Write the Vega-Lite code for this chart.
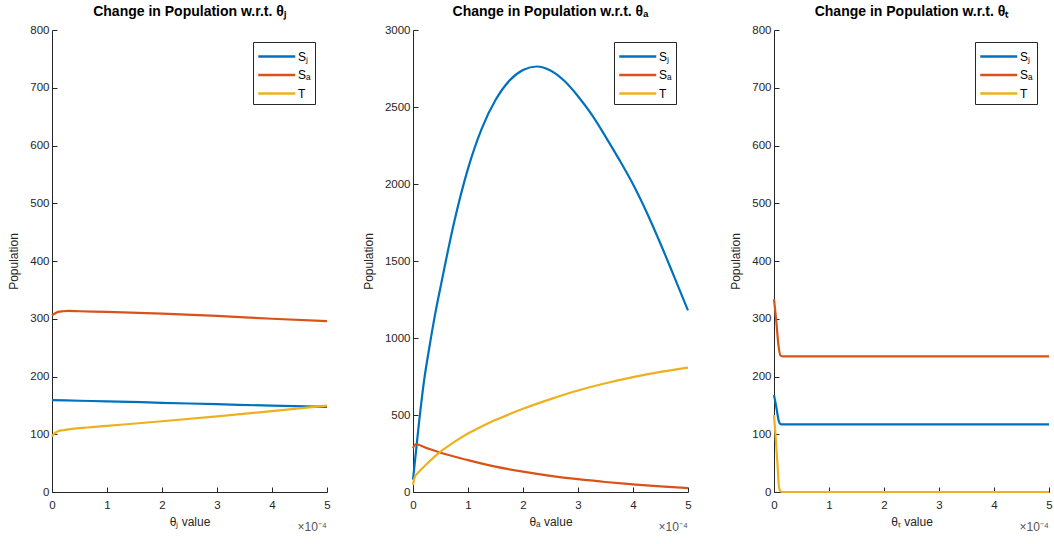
{
  "$schema": "https://vega.github.io/schema/vega-lite/v6.json",
  "background": "white",
  "padding": {"left": 7, "top": 4, "right": 5, "bottom": 5},
  "bounds": "flush",
  "spacing": 86,
  "datasets": {
    "pop": [
      {"p":"j","s":"Sⱼ","x":0,"v":159},{"p":"j","s":"Sⱼ","x":0.00005,"v":158},{"p":"j","s":"Sⱼ","x":0.0001,"v":157},{"p":"j","s":"Sⱼ","x":0.0002,"v":154.5},{"p":"j","s":"Sⱼ","x":0.0003,"v":152},{"p":"j","s":"Sⱼ","x":0.0004,"v":149.5},{"p":"j","s":"Sⱼ","x":0.0005,"v":147.5},
      {"p":"j","s":"Sₐ","x":0,"v":306},{"p":"j","s":"Sₐ","x":0.000005,"v":309},{"p":"j","s":"Sₐ","x":0.00001,"v":311.5},{"p":"j","s":"Sₐ","x":0.00002,"v":313},{"p":"j","s":"Sₐ","x":0.00003,"v":313.5},{"p":"j","s":"Sₐ","x":0.00005,"v":313},{"p":"j","s":"Sₐ","x":0.0001,"v":312},{"p":"j","s":"Sₐ","x":0.0002,"v":309},{"p":"j","s":"Sₐ","x":0.0003,"v":305},{"p":"j","s":"Sₐ","x":0.0004,"v":300},{"p":"j","s":"Sₐ","x":0.0005,"v":296},
      {"p":"j","s":"T","x":0,"v":96},{"p":"j","s":"T","x":0.000003,"v":100},{"p":"j","s":"T","x":0.000007,"v":103},{"p":"j","s":"T","x":0.000012,"v":105.5},{"p":"j","s":"T","x":0.00002,"v":107},{"p":"j","s":"T","x":0.00003,"v":108.5},{"p":"j","s":"T","x":0.00005,"v":110.5},{"p":"j","s":"T","x":0.0001,"v":114.5},{"p":"j","s":"T","x":0.0002,"v":122.5},{"p":"j","s":"T","x":0.0003,"v":131},{"p":"j","s":"T","x":0.0004,"v":140},{"p":"j","s":"T","x":0.0005,"v":149.5},

      {"p":"a","s":"Sⱼ","x":0,"v":80},{"p":"a","s":"Sⱼ","x":0.00001,"v":420},{"p":"a","s":"Sⱼ","x":0.00002,"v":720},{"p":"a","s":"Sⱼ","x":0.00003,"v":945},{"p":"a","s":"Sⱼ","x":0.00004,"v":1150},{"p":"a","s":"Sⱼ","x":0.00005,"v":1330},{"p":"a","s":"Sⱼ","x":0.000075,"v":1755},{"p":"a","s":"Sⱼ","x":0.0001,"v":2100},{"p":"a","s":"Sⱼ","x":0.000125,"v":2360},{"p":"a","s":"Sⱼ","x":0.00015,"v":2545},{"p":"a","s":"Sⱼ","x":0.000175,"v":2670},{"p":"a","s":"Sⱼ","x":0.0002,"v":2740},{"p":"a","s":"Sⱼ","x":0.000225,"v":2763},{"p":"a","s":"Sⱼ","x":0.00025,"v":2737},{"p":"a","s":"Sⱼ","x":0.000275,"v":2670},{"p":"a","s":"Sⱼ","x":0.0003,"v":2570},{"p":"a","s":"Sⱼ","x":0.000325,"v":2450},{"p":"a","s":"Sⱼ","x":0.00035,"v":2308},{"p":"a","s":"Sⱼ","x":0.000375,"v":2158},{"p":"a","s":"Sⱼ","x":0.0004,"v":1998},{"p":"a","s":"Sⱼ","x":0.000425,"v":1815},{"p":"a","s":"Sⱼ","x":0.00045,"v":1612},{"p":"a","s":"Sⱼ","x":0.000475,"v":1397},{"p":"a","s":"Sⱼ","x":0.0005,"v":1179},
      {"p":"a","s":"Sₐ","x":0,"v":285},{"p":"a","s":"Sₐ","x":0.000005,"v":310},{"p":"a","s":"Sₐ","x":0.000025,"v":285},{"p":"a","s":"Sₐ","x":0.00005,"v":255},{"p":"a","s":"Sₐ","x":0.0001,"v":207},{"p":"a","s":"Sₐ","x":0.00015,"v":165},{"p":"a","s":"Sₐ","x":0.0002,"v":132},{"p":"a","s":"Sₐ","x":0.00025,"v":105},{"p":"a","s":"Sₐ","x":0.0003,"v":83},{"p":"a","s":"Sₐ","x":0.00035,"v":65},{"p":"a","s":"Sₐ","x":0.0004,"v":50},{"p":"a","s":"Sₐ","x":0.00045,"v":36},{"p":"a","s":"Sₐ","x":0.0005,"v":25},
      {"p":"a","s":"T","x":0,"v":45},{"p":"a","s":"T","x":0.000003,"v":95},{"p":"a","s":"T","x":0.00001,"v":128},{"p":"a","s":"T","x":0.000025,"v":182},{"p":"a","s":"T","x":0.00005,"v":262},{"p":"a","s":"T","x":0.000075,"v":325},{"p":"a","s":"T","x":0.0001,"v":380},{"p":"a","s":"T","x":0.000125,"v":426},{"p":"a","s":"T","x":0.00015,"v":467},{"p":"a","s":"T","x":0.0002,"v":540},{"p":"a","s":"T","x":0.00025,"v":603},{"p":"a","s":"T","x":0.0003,"v":659},{"p":"a","s":"T","x":0.00035,"v":706},{"p":"a","s":"T","x":0.0004,"v":746},{"p":"a","s":"T","x":0.00045,"v":780},{"p":"a","s":"T","x":0.0005,"v":808},

      {"p":"t","s":"Sⱼ","x":0,"v":168},{"p":"t","s":"Sⱼ","x":0.000004,"v":148},{"p":"t","s":"Sⱼ","x":0.000009,"v":122},{"p":"t","s":"Sⱼ","x":0.000012,"v":117.5},{"p":"t","s":"Sⱼ","x":0.000015,"v":117},{"p":"t","s":"Sⱼ","x":0.0005,"v":117},
      {"p":"t","s":"Sₐ","x":0,"v":334},{"p":"t","s":"Sₐ","x":0.000004,"v":297},{"p":"t","s":"Sₐ","x":0.0000085,"v":251},{"p":"t","s":"Sₐ","x":0.000012,"v":236},{"p":"t","s":"Sₐ","x":0.000015,"v":235},{"p":"t","s":"Sₐ","x":0.0005,"v":235},
      {"p":"t","s":"T","x":0,"v":133},{"p":"t","s":"T","x":0.000003,"v":96},{"p":"t","s":"T","x":0.0000067,"v":43},{"p":"t","s":"T","x":0.000009,"v":9},{"p":"t","s":"T","x":0.000012,"v":1},{"p":"t","s":"T","x":0.000015,"v":0},{"p":"t","s":"T","x":0.0005,"v":0}
    ],
    "mult": [{"lbl": "×10⁻⁴"}]
  },
  "hconcat": [
    {
      "width": 275, "height": 462,
      "title": "Change in Population w.r.t.  θⱼ",
      "layer": [
        {
          "data": {"name": "pop"},
          "transform": [{"filter": "datum.p === 'j'"}],
          "mark": {"type": "line", "strokeWidth": 2.2, "interpolate": "monotone"},
          "encoding": {
            "x": {"field": "x", "type": "quantitative", "scale": {"domain": [0, 0.0005], "nice": false}, "axis": {"values": [0,0.0001,0.0002,0.0003,0.0004,0.0005], "labelExpr": "round(datum.value*10000)", "title": "θⱼ value"}},
            "y": {"field": "v", "type": "quantitative", "scale": {"domain": [0, 800], "nice": false}, "axis": {"values": [0,100,200,300,400,500,600,700,800], "format": "d", "title": "Population"}},
            "color": {"field": "s", "type": "nominal", "scale": {"domain": ["Sⱼ","Sₐ","T"], "range": ["#0072BD","#D95319","#EDB120"]}, "legend": {"title": null}}
          }
        },
        {
          "data": {"name": "mult"},
          "mark": {"type": "text", "align": "right", "baseline": "middle", "dy": 35, "fontSize": 12, "color": "#555555"},
          "encoding": {"x": {"datum": 0.0005, "type": "quantitative"}, "y": {"datum": 0, "type": "quantitative"}, "text": {"field": "lbl"}}
        }
      ]
    },
    {
      "width": 275, "height": 462,
      "title": "Change in Population w.r.t.  θₐ",
      "layer": [
        {
          "data": {"name": "pop"},
          "transform": [{"filter": "datum.p === 'a'"}],
          "mark": {"type": "line", "strokeWidth": 2.2, "interpolate": "monotone"},
          "encoding": {
            "x": {"field": "x", "type": "quantitative", "scale": {"domain": [0, 0.0005], "nice": false}, "axis": {"values": [0,0.0001,0.0002,0.0003,0.0004,0.0005], "labelExpr": "round(datum.value*10000)", "title": "θₐ value"}},
            "y": {"field": "v", "type": "quantitative", "scale": {"domain": [0, 3000], "nice": false}, "axis": {"values": [0,500,1000,1500,2000,2500,3000], "format": "d", "title": "Population"}},
            "color": {"field": "s", "type": "nominal", "scale": {"domain": ["Sⱼ","Sₐ","T"], "range": ["#0072BD","#D95319","#EDB120"]}, "legend": {"title": null}}
          }
        },
        {
          "data": {"name": "mult"},
          "mark": {"type": "text", "align": "right", "baseline": "middle", "dy": 35, "fontSize": 12, "color": "#555555"},
          "encoding": {"x": {"datum": 0.0005, "type": "quantitative"}, "y": {"datum": 0, "type": "quantitative"}, "text": {"field": "lbl"}}
        }
      ]
    },
    {
      "width": 275, "height": 462,
      "title": "Change in Population w.r.t.  θₜ",
      "layer": [
        {
          "data": {"name": "pop"},
          "transform": [{"filter": "datum.p === 't'"}],
          "mark": {"type": "line", "strokeWidth": 2.2, "interpolate": "monotone"},
          "encoding": {
            "x": {"field": "x", "type": "quantitative", "scale": {"domain": [0, 0.0005], "nice": false}, "axis": {"values": [0,0.0001,0.0002,0.0003,0.0004,0.0005], "labelExpr": "round(datum.value*10000)", "title": "θₜ value"}},
            "y": {"field": "v", "type": "quantitative", "scale": {"domain": [0, 800], "nice": false}, "axis": {"values": [0,100,200,300,400,500,600,700,800], "format": "d", "title": "Population"}},
            "color": {"field": "s", "type": "nominal", "scale": {"domain": ["Sⱼ","Sₐ","T"], "range": ["#0072BD","#D95319","#EDB120"]}, "legend": {"title": null}}
          }
        },
        {
          "data": {"name": "mult"},
          "mark": {"type": "text", "align": "right", "baseline": "middle", "dy": 35, "fontSize": 12, "color": "#555555"},
          "encoding": {"x": {"datum": 0.0005, "type": "quantitative"}, "y": {"datum": 0, "type": "quantitative"}, "text": {"field": "lbl"}}
        }
      ]
    }
  ],
  "resolve": {"scale": {"y": "independent", "x": "independent", "color": "shared"}, "legend": {"color": "independent"}},
  "config": {
    "font": "Liberation Sans",
    "view": {"stroke": null},
    "title": {"fontSize": 14, "fontWeight": "bold", "color": "#000000", "offset": 5.5},
    "axis": {"grid": false, "labelFontSize": 11.5, "labelColor": "#262626", "titleFontSize": 12, "titleFontWeight": "normal", "titleColor": "#262626", "domainColor": "#262626", "tickColor": "#262626", "tickSize": -5, "labelFlush": false},
    "axisY": {"titlePadding": 9, "labelPadding": 8},
    "axisX": {"titlePadding": 6, "labelPadding": 12},
    "legend": {"orient": "top-right", "offset": 12, "strokeColor": "#262626", "fillColor": "white", "padding": 4, "symbolType": "M-1,0H3", "symbolSize": 342, "symbolStrokeWidth": 2.5, "labelFontSize": 12, "labelColor": "#000000", "rowPadding": 1.5, "labelOffset": 20}
  }
}
